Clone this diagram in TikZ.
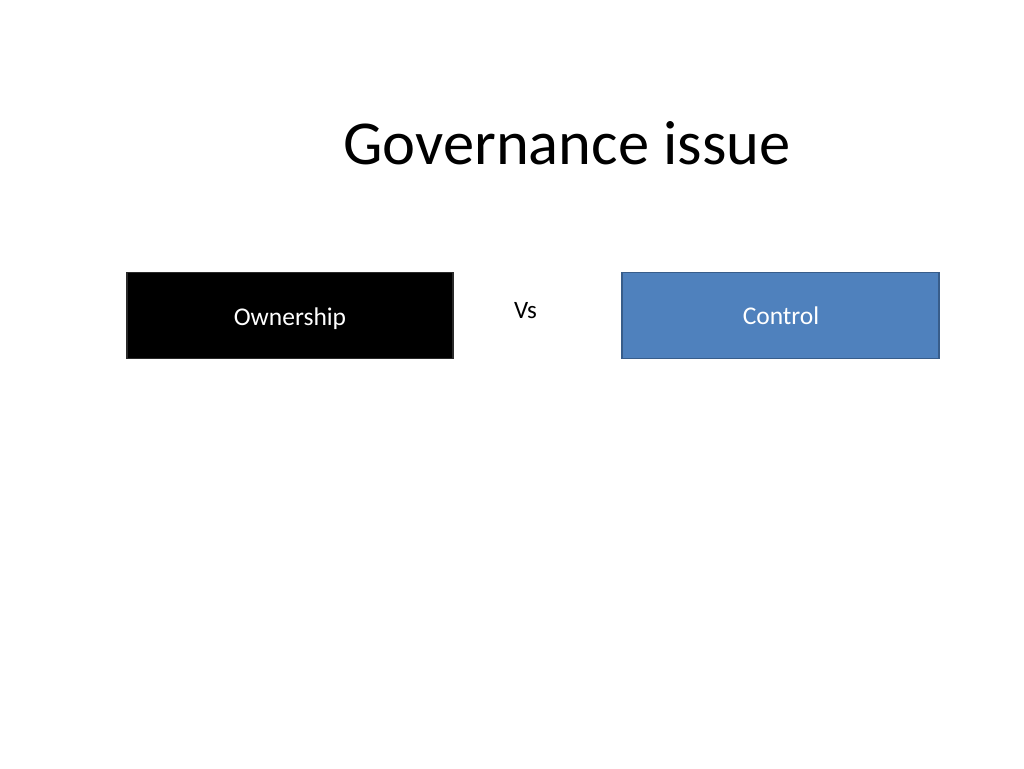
\documentclass[tikz,border=0pt]{standalone}
\usepackage{fontspec}
\setmainfont{Carlito}
\definecolor{ctrlfill}{HTML}{4F81BD}
\definecolor{ctrldraw}{HTML}{385D8A}
\definecolor{ownfill}{HTML}{000000}
\definecolor{owndraw}{HTML}{2A2A2A}
\tikzset{
  boxshape/.style={rectangle, minimum width=#1, minimum height=86pt, line width=1.5pt, inner sep=0pt},
  boxlabel/.style={anchor=base, text=white, font=\fontsize{25.5}{30}\selectfont, inner sep=0pt},
}
\begin{document}
\begin{tikzpicture}[x=1pt,y=-1pt]
\useasboundingbox[fill=white] (0,0) rectangle (1024,768);
\node[anchor=base, font=\fontsize{62.5}{70}\selectfont] (title) at (567,164) {Governance issue};
\node[boxshape=326pt, fill=ownfill, draw=owndraw] (own) at (290,315.5) {};
\node[boxlabel] (ownlbl) at (290,325) {Ownership};
\node[boxshape=317pt, fill=ctrlfill, draw=ctrldraw] (ctrl) at (780.5,315.5) {};
\node[boxlabel] (ctrllbl) at (781,324.5) {Control};
\node[font=\fontsize{25}{30}\selectfont, anchor=base, inner sep=0pt] (vs) at (525.5,318.5) {Vs};
\end{tikzpicture}
\end{document}
